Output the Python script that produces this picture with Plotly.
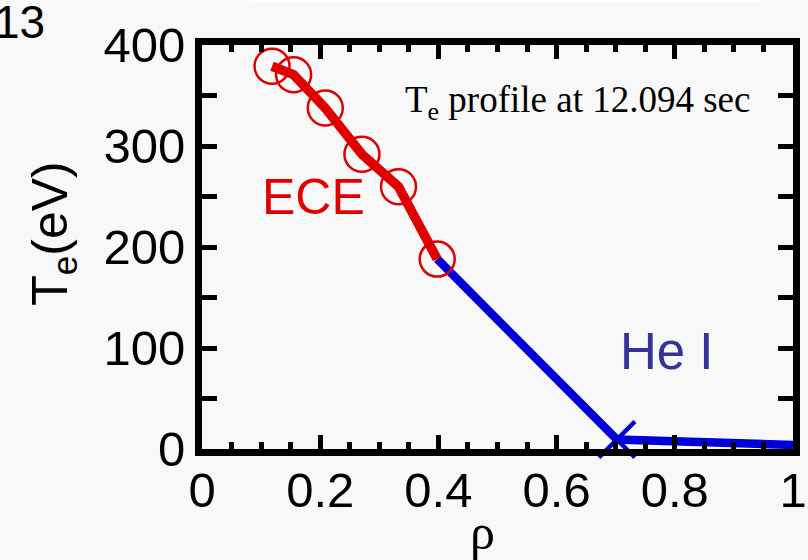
import plotly.graph_objects as go

# ECE electron temperature profile
ece_rho = [0.1185, 0.155, 0.2086, 0.2706, 0.3325, 0.398]
ece_te = [379, 370.6, 337.6, 291.9, 259.6, 188]

# He I line-ratio section
hei_rho = [0.398, 0.702, 1.0]
hei_te = [188, 9.4, 4]

# He I measured point
hei_pt_rho = [0.702]
hei_pt_te = [9.4]

x_ticks = [0, 0.2, 0.4, 0.6, 0.8, 1]
x_tick_text = ["0", "0.2", "0.4", "0.6", "0.8", "1"]
y_ticks = [0, 100, 200, 300, 400]
y_tick_text = ["0", "100", "200", "300", "400"]

RED = "#e00000"
BLUE = "#0000d8"
BG = "#f8f8f8"
TICKFONT = dict(family="Liberation Sans, Arial", size=49, color="black")

fig = go.Figure()
fig.add_trace(go.Scatter(x=hei_rho, y=hei_te, mode="lines",
                         line=dict(color=BLUE, width=8.5), showlegend=False))
fig.add_trace(go.Scatter(x=ece_rho, y=ece_te, mode="lines",
                         line=dict(color=RED, width=9.5), showlegend=False))
fig.add_trace(go.Scatter(x=ece_rho, y=ece_te, mode="markers",
                         marker=dict(symbol="circle-open", size=35, color=RED,
                                     line=dict(color=RED, width=2.5)),
                         showlegend=False, cliponaxis=False))
fig.add_trace(go.Scatter(x=hei_pt_rho, y=hei_pt_te, mode="markers",
                         marker=dict(symbol="x-thin", size=36, color=BLUE,
                                     line=dict(color=BLUE, width=4.5)),
                         showlegend=False, cliponaxis=False))

axis_common = dict(showgrid=False, zeroline=False, showline=True, linecolor="black",
                   linewidth=7, mirror="ticks", ticks="inside", tickcolor="black",
                   tickwidth=5, automargin=False, tickfont=TICKFONT)

fig.update_layout(
    xaxis=dict(range=[0, 1], tickvals=x_ticks, ticktext=x_tick_text, ticklen=14,
               showticklabels=False,
               minor=dict(dtick=0.05, ticks="inside", ticklen=7, tickwidth=5,
                          tickcolor="black", showgrid=False),
               **axis_common),
    # label-only x axis, placed so its numbers sit close under the frame
    xaxis2=dict(range=[0, 1], tickvals=x_ticks, ticktext=x_tick_text,
                overlaying="x", anchor="free", position=0, side="bottom",
                showline=False, showgrid=False, zeroline=False, ticks="",
                ticklabelstandoff=8, automargin=False, tickfont=TICKFONT),
    yaxis=dict(range=[0, 400], tickvals=y_ticks, ticktext=y_tick_text, ticklen=15,
               minor=dict(dtick=50, ticks="inside", ticklen=15, tickwidth=5,
                          tickcolor="black", showgrid=False),
               **axis_common),
)
# invisible helper trace so the label axis is drawn
fig.add_trace(go.Scatter(x=[0, 1], y=[None, None], xaxis="x2", yaxis="y",
                         mode="lines", showlegend=False, hoverinfo="skip"))


def px_x(px):
    return (px - 201.5) / 592.0


def px_y(py):
    return (449.5 - py) / 405.0


annotations = [
    dict(text="13", x=px_x(46), y=px_y(21.5), xanchor="right", yanchor="middle",
         font=dict(family="Liberation Sans, Arial", size=46, color="black")),
    dict(text="ECE", x=px_x(313), y=px_y(197), xanchor="center", yanchor="middle",
         font=dict(family="Liberation Sans, Arial", size=50, color="#e00000")),
    dict(text="He I", x=px_x(667), y=px_y(352), xanchor="center", yanchor="middle",
         font=dict(family="Liberation Sans, Arial", size=51, color="#333399")),
    dict(text="T<sub>e</sub> profile at 12.094 sec", x=px_x(577.5), y=px_y(102),
         xanchor="center", yanchor="middle",
         font=dict(family="Liberation Serif, Times New Roman", size=37, color="black")),
    dict(text="ρ", x=px_x(482), y=px_y(533), xanchor="center", yanchor="middle",
         font=dict(family="Liberation Serif, Times New Roman", size=50, color="black")),
    dict(text="T<sub>e</sub>(eV)",
         x=px_x(52), y=px_y(234), xanchor="center",
         yanchor="middle", textangle=-90,
         font=dict(family="Liberation Sans, Arial", size=50, color="black")),
]
for a in annotations:
    a.update(xref="paper", yref="paper", showarrow=False)

fig.update_layout(
    width=808, height=560,
    margin=dict(l=201.5, r=14.5, t=44.5, b=110.5, pad=0, autoexpand=False),
    paper_bgcolor=BG, plot_bgcolor=BG,
    annotations=annotations,
    shapes=[dict(type="rect", xref="paper", yref="paper",
                 x0=px_x(249), x1=px_x(764), y0=px_y(1.5), y1=px_y(0),
                 fillcolor="white", line=dict(width=0), layer="above")],
)

fig.write_html("out.html")
